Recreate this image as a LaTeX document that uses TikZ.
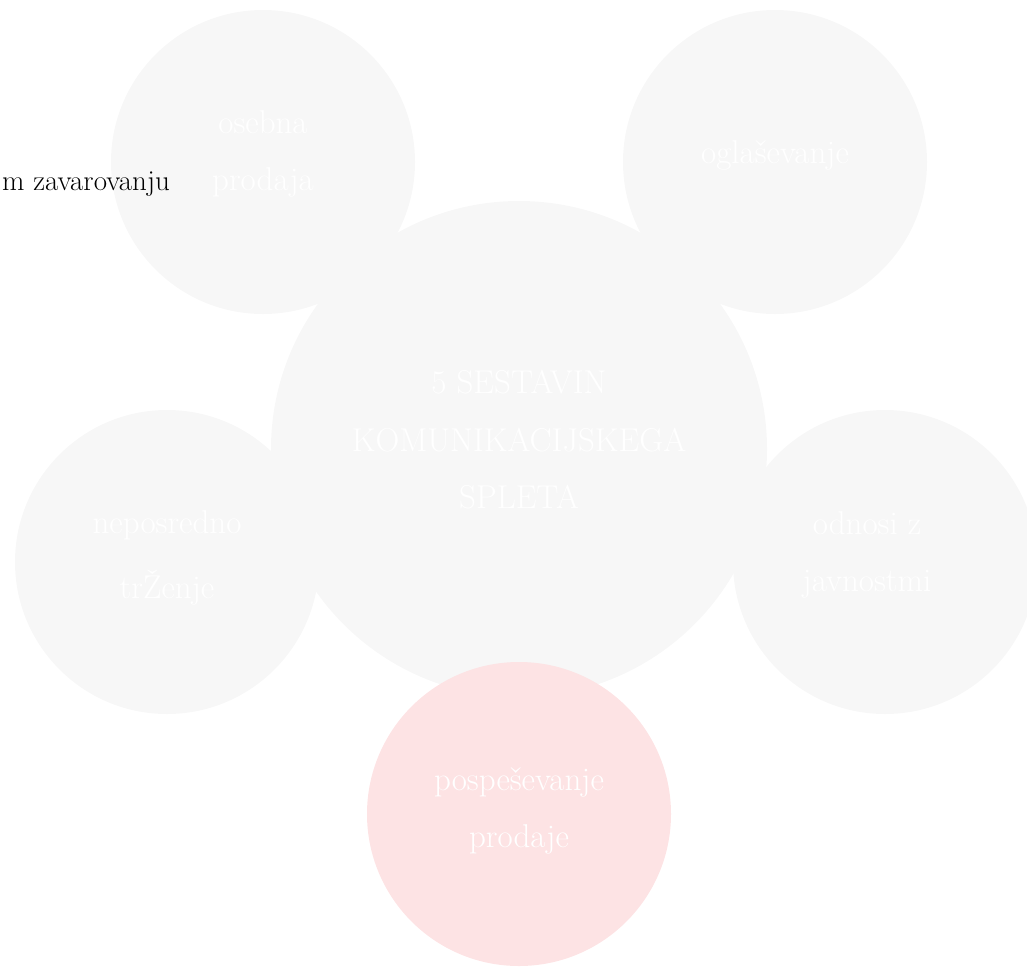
\documentclass[tikz,border=0pt]{standalone}
\usepackage{xcolor}
\definecolor{discgrey}{RGB}{247,247,247}
\definecolor{discpink}{RGB}{253,227,228}
\begin{document}
\begin{tikzpicture}[x=1pt,y=-1pt,
  disc/.style={circle,fill=discgrey,draw=none,inner sep=0pt,minimum size=304pt},
  bigdisc/.style={circle,fill=discgrey,draw=none,inner sep=0pt,minimum size=496pt},
  pinkdisc/.style={circle,fill=discpink,draw=none,inner sep=0pt,minimum size=304pt},
  lbl/.style={anchor=base,text=white,inner sep=0pt,font=\fontsize{33}{40}\selectfont},
  note/.style={anchor=base east,text=black,inner sep=0pt,font=\fontsize{29}{35}\selectfont}]
\useasboundingbox (0,0) rectangle (1027,967);
\clip (0,0) rectangle (1027,967);

% discs of the communication mix
\node[disc] (sell) at (263,162) {};
\node[disc] (adv) at (775,162) {};
\node[disc] (direct) at (167,562) {};
\node[disc] (pr) at (885,562) {};
\node[bigdisc] (core) at (519,449) {};
\node[pinkdisc] (promo) at (519,814) {};

% labels
\node[lbl] (core1) at (519,393) {5 SESTAVIN};
\node[lbl] (core2) at (519,451) {KOMUNIKACIJSKEGA};
\node[lbl] (core3) at (519,508) {SPLETA};

\node[lbl] (sell1) at (263,133.5) {osebna};
\node[lbl] (sell2) at (263,190.5) {prodaja};

\node[lbl] (adv1) at (775,163) {oglaševanje};

\node[lbl] (direct1) at (167,533) {neposredno};
\node[lbl] (direct2) at (167,598) {trŽenje};

\node[lbl] (pr1) at (867,534) {odnosi z};
\node[lbl] (pr2) at (867,591) {javnostmi};

\node[lbl] (promo1) at (519,790) {pospeševanje};
\node[lbl] (promo2) at (519,847) {prodaje};

% stray line of body text
\node[note] (body) at (170,190.5) {m zavarovanju};
\end{tikzpicture}
\end{document}
